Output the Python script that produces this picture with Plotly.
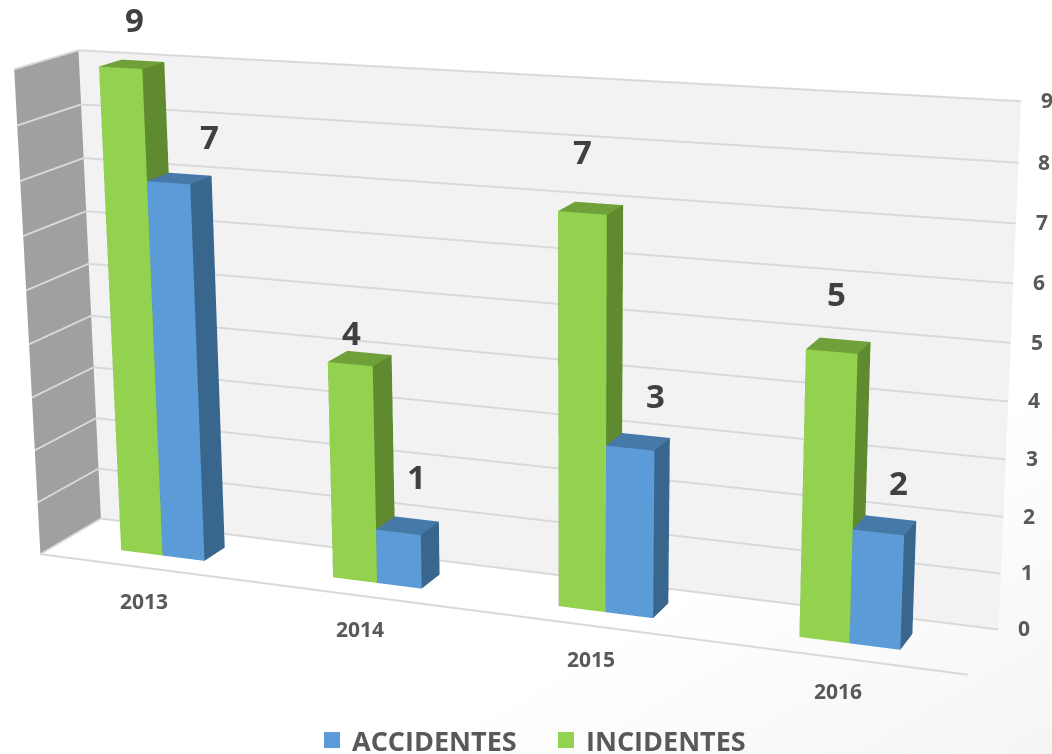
import plotly.graph_objects as go

# ---- data ----
years = ["2013", "2014", "2015", "2016"]
accidentes = [7, 1, 3, 2]
incidentes = [9, 4, 7, 5]
z_ticks = list(range(0, 10))

# ---- styling ----
GREEN = dict(front="#92d24f", side="#5f8a30", top="#6fa03a")
BLUE = dict(front="#5b9bd7", side="#39668d", top="#4679a8")
FONT = "Open Sans"
# hand placement of the value labels (pixels), per year: (incidentes, accidentes)
label_shift = [((3, 45), (30, 42)), ((-8, 26), (9, 49)), ((-8, 57), (17, 46)), ((-2, 52), (14, 43))]

# The figure is larger than the window so that the fixed 45 degree lens of the
# 3D scene gives the long-lens perspective of the original.
W, H = 1300, 2412
LEFT, TOP = -221, -777
BAR_W, Y0, Y1 = 0.2, 0.32, 0.68


def box(x0, x1, top, col, xs, ys, zs, i, j, k, fc):
    n = len(xs)
    for x in (x0, x1):
        for y in (Y0, Y1):
            for z in (0, top):
                xs.append(x); ys.append(y); zs.append(z)
    # vertex index: 4*(x)+2*(y)+(z)
    faces = [((0, 1, 5, 4), col["front"]), ((4, 5, 7, 6), col["side"]), ((1, 3, 7, 5), col["top"]),
             ((0, 1, 3, 2), col["side"]), ((2, 3, 7, 6), col["front"])]
    for q, c in faces:
        for tri in ((q[0], q[1], q[2]), (q[0], q[2], q[3])):
            i.append(n + tri[0]); j.append(n + tri[1]); k.append(n + tri[2]); fc.append(c)


def bars(values, offset, col, name):
    xs, ys, zs, i, j, k, fc = [], [], [], [], [], [], []
    for c, v in enumerate(values):
        box(c + offset, c + offset + BAR_W, v, col, xs, ys, zs, i, j, k, fc)
    return go.Mesh3d(x=xs, y=ys, z=zs, i=i, j=j, k=k, facecolor=fc, flatshading=True, name=name,
                     lighting=dict(ambient=1, diffuse=0, specular=0, roughness=1, fresnel=0),
                     hoverinfo="name", showlegend=False)


fig = go.Figure()
fig.add_trace(bars(incidentes, -BAR_W, GREEN, "INCIDENTES"))
fig.add_trace(bars(accidentes, 0, BLUE, "ACCIDENTES"))
for nm, c in (("ACCIDENTES", BLUE["front"]), ("INCIDENTES", GREEN["front"])):
    fig.add_trace(go.Scatter3d(x=[None], y=[None], z=[None], mode="markers", name=nm,
                               marker=dict(symbol="square", size=16, color=c)))

notes = []
for c, (a, b) in enumerate(zip(incidentes, accidentes)):
    for v, off, (dx, dy) in ((a, -BAR_W / 2, label_shift[c][0]), (b, BAR_W / 2, label_shift[c][1])):
        notes.append(dict(x=c + off, y=0.5, z=v, text=str(v), showarrow=False, xshift=dx, yshift=dy,
                          font=dict(family=FONT, size=33, color="#404040", weight="bold")))
for c, yr in enumerate(years):
    notes.append(dict(x=c, y=0, z=0, text=yr, showarrow=False, xshift=0, yshift=-33,
                      font=dict(family=FONT, size=21, color="#595959", weight="bold")))
for t in z_ticks:
    notes.append(dict(x=3.5, y=1, z=t, text=str(t), showarrow=False, xshift=26, yshift=1, xanchor="center",
                      font=dict(family=FONT, size=21, color="#595959", weight="bold")))

common = dict(showspikes=False, title=dict(text=""), zeroline=False, ticks="", showticklabels=False)
fig.update_layout(
    width=W, height=H, autosize=False, margin=dict(l=0, r=0, t=0, b=0), paper_bgcolor="rgba(0,0,0,0)",
    showlegend=True,
    legend=dict(orientation="h", x=(312 - LEFT) / W, y=1 - (716 - TOP) / H, xanchor="left", yanchor="top",
                entrywidth=189, entrywidthmode="pixels",
                font=dict(family=FONT, size=27, color="#595959", weight="bold"), bgcolor="rgba(0,0,0,0)"),
    scene=dict(
        aspectmode="manual", aspectratio=dict(x=1, y=0.1315, z=0.5206),
        camera=dict(eye=dict(x=1.05, y=-2.611, z=0.728), center=dict(x=-0.055, y=-0.045, z=-0.082),
                    up=dict(x=-0.0957, y=0.2593, z=0.96), projection=dict(type="perspective")),
        xaxis=dict(range=[-0.5, 3.5], tickvals=[0, 1, 2, 3], ticktext=years, showgrid=False,
                   showbackground=True, backgroundcolor="#a0a0a0", showline=True, linecolor="#d9d9d9",
                   linewidth=4, **common),
        yaxis=dict(range=[0, 1], showgrid=False, showbackground=True, backgroundcolor="#f2f2f2",
                   showline=False, **common),
        zaxis=dict(range=[0, 9], tickvals=z_ticks, showgrid=True, gridcolor="#d9d9d9", gridwidth=4,
                   showbackground=False, **common),
        annotations=notes,
    ),
)

post = f"""
document.documentElement.style.overflow='hidden';
document.documentElement.style.background='linear-gradient(150deg,#ffffff 72%,#f5f5f5 100%)';
document.documentElement.style.height='754px';
document.body.style.overflow='hidden';
document.body.style.margin='0';
document.body.style.background='transparent';
var gd=document.getElementById('{{plot_id}}');
gd.style.position='absolute';gd.style.left='{LEFT}px';gd.style.top='{TOP}px';
"""
fig.write_html("out.html", post_script=post, config=dict(displayModeBar=False))
